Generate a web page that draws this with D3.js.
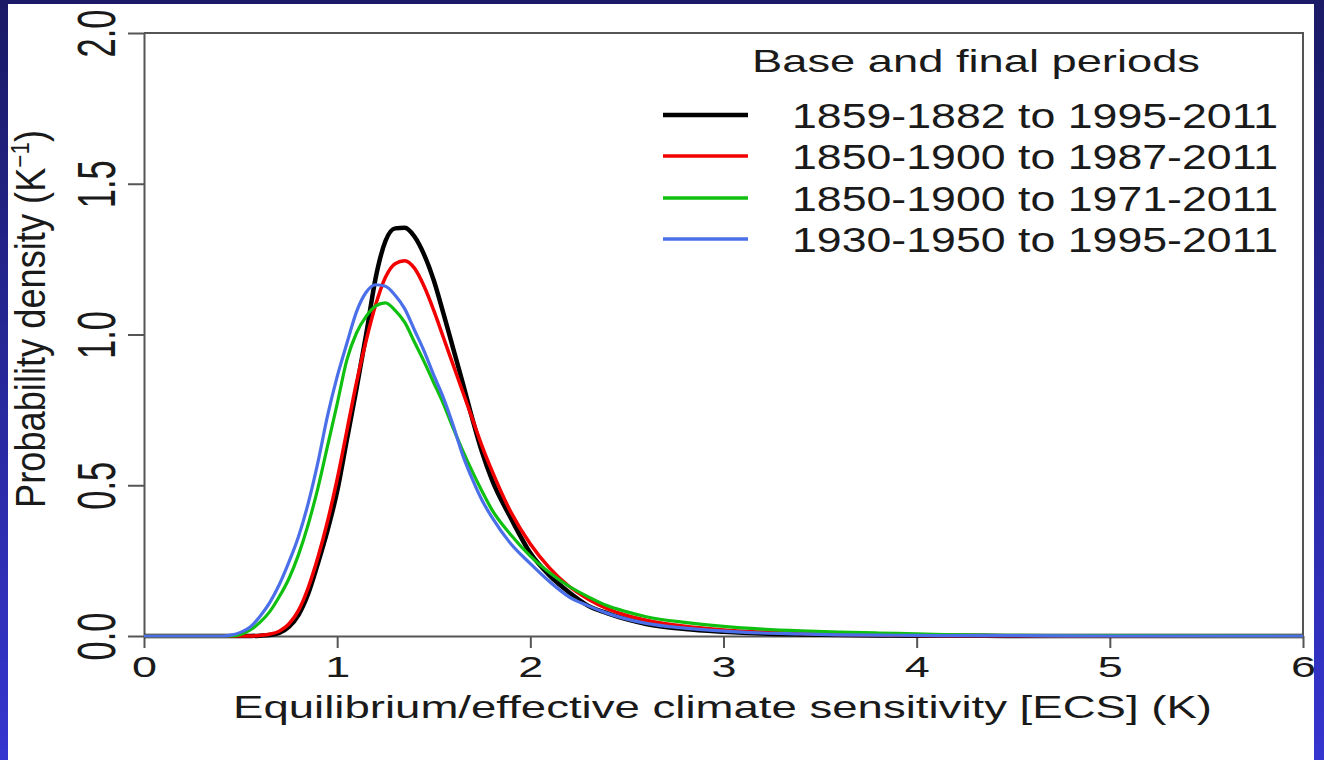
<!DOCTYPE html>
<html>
<head>
<meta charset="utf-8">
<script src="https://cdn.jsdelivr.net/npm/d3@7"></script>
<style>
  html, body { margin: 0; padding: 0; background: #2a2aa8; }
  svg { display: block; }
  text { font-family: "Liberation Sans", Arial, sans-serif; fill: #1a1a1a; }
</style>
</head>
<body>
<svg id="chart" width="1324" height="760"></svg>
<script>
// ---- data ----
const xGrid = [0, 0.4, 0.45, 0.5, 0.55, 0.6, 0.65, 0.7, 0.75, 0.8, 0.85, 0.9, 0.95, 1.0, 1.05, 1.1, 1.15, 1.2, 1.25, 1.3, 1.35, 1.4, 1.45, 1.5, 1.55, 1.6, 1.65, 1.7, 1.75, 1.8, 1.9, 2.0, 2.1, 2.2, 2.3, 2.4, 2.5, 2.6, 2.8, 3.0, 3.2, 3.4, 3.6, 3.8, 4.0, 4.2, 4.5, 5.0, 6.0];

const black1859 = [0, 0, 0, 0, 0, 0.001, 0.003, 0.01, 0.03, 0.07, 0.14, 0.24, 0.35, 0.48, 0.65, 0.82, 1.0, 1.19, 1.31, 1.352, 1.354, 1.325, 1.265, 1.18, 1.07, 0.955, 0.84, 0.72, 0.61, 0.52, 0.39, 0.275, 0.2, 0.145, 0.1, 0.075, 0.055, 0.04, 0.023, 0.014, 0.008, 0.005, 0.003, 0.002, 0.001, 0.001, 0, 0, 0];

const red1850_1987 = [0, 0, 0, 0, 0, 0.002, 0.006, 0.016, 0.04, 0.085, 0.16, 0.26, 0.38, 0.52, 0.68, 0.84, 0.98, 1.1, 1.19, 1.235, 1.245, 1.22, 1.16, 1.08, 0.99, 0.9, 0.81, 0.72, 0.63, 0.55, 0.41, 0.305, 0.225, 0.165, 0.122, 0.09, 0.068, 0.052, 0.032, 0.02, 0.013, 0.008, 0.005, 0.003, 0.002, 0.001, 0.0005, 0, 0];

const green1850_1971 = [0, 0, 0, 0.005, 0.02, 0.045, 0.08, 0.13, 0.19, 0.27, 0.37, 0.49, 0.63, 0.77, 0.915, 1.005, 1.06, 1.095, 1.105, 1.08, 1.04, 0.975, 0.91, 0.84, 0.77, 0.69, 0.615, 0.545, 0.48, 0.42, 0.335, 0.265, 0.21, 0.165, 0.13, 0.1, 0.08, 0.064, 0.045, 0.032, 0.023, 0.017, 0.013, 0.01, 0.007, 0.004, 0.002, 0.001, 0];

const blue1930 = [0, 0, 0.003, 0.012, 0.03, 0.065, 0.11, 0.17, 0.245, 0.33, 0.44, 0.575, 0.73, 0.86, 0.97, 1.075, 1.14, 1.165, 1.16, 1.13, 1.085, 1.015, 0.945, 0.865, 0.79, 0.70, 0.6, 0.52, 0.45, 0.395, 0.305, 0.24, 0.18, 0.13, 0.1, 0.075, 0.056, 0.042, 0.026, 0.016, 0.01, 0.007, 0.004, 0.003, 0.002, 0.001, 0.001, 0, 0];

const seriesNames = ["1859-1882 to 1995-2011", "1850-1900 to 1987-2011", "1850-1900 to 1971-2011", "1930-1950 to 1995-2011"];
const seriesColors = ["#000000", "#f20000", "#10c010", "#4a6fe8"];
const seriesWidths = [4.5, 3.5, 3.2, 3.2];
const seriesValues = [black1859, red1850_1987, green1850_1971, blue1930];

const xTicks = [0, 1, 2, 3, 4, 5, 6];
const xTickLabels = ["0", "1", "2", "3", "4", "5", "6"];
const yTicks = [0, 0.5, 1.0, 1.5, 2.0];
const yTickLabels = ["0.0", "0.5", "1.0", "1.5", "2.0"];

const legendTitle = "Base and final periods";
const xTitle = "Equilibrium/effective climate sensitivity [ECS] (K)";

// ---- drawing ----
const svg = d3.select("#chart");

const defs = svg.append("defs");
const grad = defs.append("linearGradient").attr("id", "bg").attr("x1", 0).attr("y1", 0).attr("x2", 0).attr("y2", 1);
grad.append("stop").attr("offset", "0%").attr("stop-color", "#1a1a66");
grad.append("stop").attr("offset", "100%").attr("stop-color", "#3535d0");

svg.append("rect").attr("x", 0).attr("y", 0).attr("width", 1324).attr("height", 760).attr("fill", "url(#bg)");
svg.append("rect").attr("x", 8).attr("y", 4).attr("width", 1306).attr("height", 756).attr("fill", "#ffffff");

const x = d3.scaleLinear().domain([0, 6]).range([144, 1303]);
const y = d3.scaleLinear().domain([0, 2]).range([636, 33]);

const axisColor = "#555555";

// box (top + right)
svg.append("path")
  .attr("d", `M${x(0)},${y(2)}H${x(6)}V${y(0)}`)
  .attr("fill", "none").attr("stroke", axisColor).attr("stroke-width", 2);

// x axis
const gx = svg.append("g").attr("transform", `translate(0,${y(0)})`)
  .call(d3.axisBottom(x).tickValues(xTicks).tickSize(12).tickSizeOuter(0)
    .tickFormat((d, i) => xTickLabels[i]));
gx.select(".domain").attr("stroke", axisColor).attr("stroke-width", 2);
gx.selectAll(".tick line").attr("stroke", axisColor).attr("stroke-width", 2);
gx.selectAll(".tick text")
  .attr("y", 41).attr("dy", 0)
  .attr("font-size", 30).attr("fill", "#1a1a1a")
  .attr("text-anchor", "middle")
  .attr("textLength", 25).attr("lengthAdjust", "spacingAndGlyphs");

// y axis
const gy = svg.append("g").attr("transform", `translate(${x(0)},0)`)
  .call(d3.axisLeft(y).tickValues(yTicks).tickSize(16).tickSizeOuter(0)
    .tickFormat((d, i) => yTickLabels[i]));
gy.select(".domain").attr("stroke", axisColor).attr("stroke-width", 2);
gy.selectAll(".tick line").attr("stroke", axisColor).attr("stroke-width", 2);
gy.selectAll(".tick text")
  .attr("x", 0).attr("dy", 0)
  .attr("transform", "translate(-29,0) rotate(-90)")
  .attr("font-size", 54).attr("fill", "#1a1a1a")
  .attr("text-anchor", "middle")
  .attr("textLength", 48).attr("lengthAdjust", "spacingAndGlyphs");

// axis titles
svg.append("text")
  .attr("x", 233).attr("y", 718)
  .attr("font-size", 32)
  .attr("textLength", 979).attr("lengthAdjust", "spacingAndGlyphs")
  .text(xTitle);

const yl = svg.append("text")
  .attr("transform", "translate(45,508) rotate(-90)")
  .attr("x", 0).attr("y", 0)
  .attr("font-size", 42)
  .attr("textLength", 378).attr("lengthAdjust", "spacingAndGlyphs");
yl.append("tspan").text("Probability density (K");
yl.append("tspan").attr("font-size", 26).attr("dy", -16).text("−1");
yl.append("tspan").attr("dy", 16).text(")");

// curves
const line = d3.line()
  .x((d, i) => x(xGrid[i]))
  .y(d => y(d))
  .curve(d3.curveMonotoneX);

seriesValues.forEach((vals, k) => {
  svg.append("path")
    .datum(vals)
    .attr("d", line)
    .attr("fill", "none")
    .attr("stroke", seriesColors[k])
    .attr("stroke-width", seriesWidths[k])
    .attr("stroke-linejoin", "round");
});

// legend
svg.append("text")
  .attr("x", 752).attr("y", 72)
  .attr("font-size", 32)
  .attr("textLength", 448).attr("lengthAdjust", "spacingAndGlyphs")
  .text(legendTitle);

const legendLineY = [115, 156, 198, 239];
seriesNames.forEach((name, k) => {
  svg.append("line")
    .attr("x1", 663).attr("x2", 748)
    .attr("y1", legendLineY[k]).attr("y2", legendLineY[k])
    .attr("stroke", seriesColors[k])
    .attr("stroke-width", k === 0 ? 4.5 : 3.5);
  svg.append("text")
    .attr("x", 792).attr("y", legendLineY[k] + 13)
    .attr("font-size", 35)
    .attr("textLength", 486).attr("lengthAdjust", "spacingAndGlyphs")
    .text(name);
});
</script>
</body>
</html>
